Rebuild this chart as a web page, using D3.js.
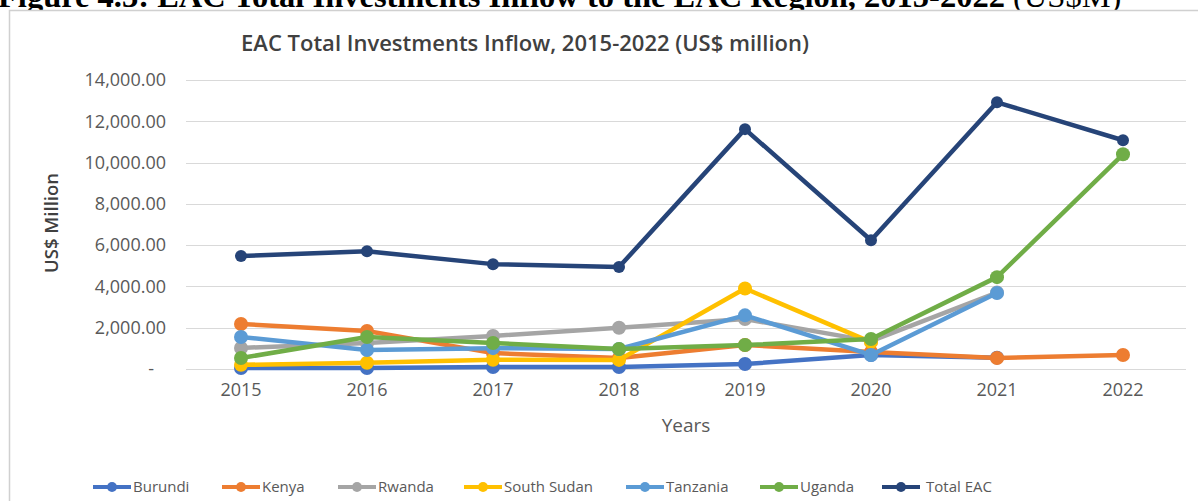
<!DOCTYPE html>
<html><head><meta charset="utf-8">
<script src="https://cdn.jsdelivr.net/npm/d3@7"></script>
<style>
html,body{margin:0;padding:0;background:#fff;}
svg{display:block;}
</style></head>
<body>
<svg id="chart" width="1198" height="501"></svg>
<script>
const years = ["2015","2016","2017","2018","2019","2020","2021","2022"];
const burundi    = [50, 50, 100, 100, 240, 680, 550, null];
const kenya      = [2180, 1840, 770, 530, 1160, 820, 530, 680];
const rwanda     = [1020, 1260, 1600, 2000, 2420, 1350, 3700, null];
const southSudan = [200, 300, 450, 440, 3900, 1300, null, null];
const tanzania   = [1550, 920, 1010, 970, 2600, 680, 3680, null];
const uganda     = [530, 1550, 1260, 970, 1160, 1450, 4450, 10400];
const totalEAC   = [5470, 5700, 5080, 4940, 11620, 6240, 12920, 11080];
const seriesNames = ["Burundi","Kenya","Rwanda","South Sudan","Tanzania","Uganda","Total EAC"];
const seriesValues = [burundi, kenya, rwanda, southSudan, tanzania, uganda, totalEAC];
const seriesColors = ["#4472C4","#ED7D31","#A5A5A5","#FFC000","#5B9BD5","#70AD47","#264478"];
const yTicks = [0, 2000, 4000, 6000, 8000, 10000, 12000, 14000];

const svg = d3.select("#chart");
const font = "'Open Sans', sans-serif";

// caption (cut off at top, as in the reference)
svg.append("text").attr("x", -2).attr("y", 7)
  .attr("font-family", "'Liberation Serif', serif").attr("font-size", 32.5).attr("font-weight", "bold")
  .attr("fill", "#000")
  .text("Figure 4.3: EAC Total Investments Inflow to the EAC Region, 2015-2022 ")
  .append("tspan").attr("font-weight", "normal").text("(US$M)");

// frame
svg.append("rect").attr("x", 9.5).attr("y", 10.5).attr("width", 1200).attr("height", 500)
  .attr("fill", "#fff").attr("stroke", "#d0d0d0").attr("stroke-width", 1.5);

const x = d3.scaleBand().domain(years).range([178, 1186]);
const y = d3.scaleLinear().domain([0, 14000]).range([369, 80]);

// gridlines
svg.append("g").selectAll("line").data(yTicks).join("line")
  .attr("x1", 186).attr("x2", 1186)
  .attr("y1", d => Math.round(y(d)) + 0.5).attr("y2", d => Math.round(y(d)) + 0.5)
  .attr("stroke", "#d9d9d9").attr("stroke-width", 1.2);

// y axis labels
const yAxis = d3.axisLeft(y).tickValues(yTicks).tickSize(0).tickPadding(0)
  .tickFormat(d => d === 0 ? "-" : d3.format(",.2f")(d));
const gy = svg.append("g").attr("transform", "translate(166,0)").call(yAxis);
gy.select(".domain").remove();
gy.selectAll("text").attr("font-family", font).attr("font-size", 18).attr("fill", "#595959")
  .attr("dx", d => d === 0 ? -12 : 0);

// x axis labels
const xAxis = d3.axisBottom(x).tickSize(0).tickPadding(0);
const gx = svg.append("g").attr("transform", "translate(0,383)").call(xAxis);
gx.select(".domain").remove();
gx.selectAll("text").attr("font-family", font).attr("font-size", 18).attr("fill", "#595959");

// titles
svg.append("text").attr("x", 525).attr("y", 51).attr("text-anchor", "middle")
  .attr("font-family", font).attr("font-size", 22).attr("font-weight", 600).attr("fill", "#404040")
  .text("EAC Total Investments Inflow, 2015-2022 (US$ million)");
svg.append("text").attr("transform", "translate(58,223) rotate(-90)").attr("text-anchor", "middle")
  .attr("font-family", font).attr("font-size", 18.5).attr("font-weight", 600).attr("fill", "#404040")
  .text("US$ Million");
svg.append("text").attr("x", 686).attr("y", 432).attr("text-anchor", "middle")
  .attr("font-family", font).attr("font-size", 19).attr("fill", "#595959")
  .text("Years");

// lines
const cx = d => x(d) + x.bandwidth() / 2;
const line = d3.line().defined(d => d.v != null).x(d => cx(d.year)).y(d => y(d.v));
seriesNames.forEach((name, i) => {
  const pts = years.map((yr, j) => ({year: yr, v: seriesValues[i][j]}));
  const g = svg.append("g");
  g.append("path").datum(pts).attr("d", line).attr("fill", "none")
    .attr("stroke", seriesColors[i]).attr("stroke-width", 4.5).attr("stroke-linejoin", "round");
  g.selectAll("circle").data(pts.filter(p => p.v != null)).join("circle")
    .attr("cx", p => cx(p.year)).attr("cy", p => y(p.v))
    .attr("r", name === "Total EAC" ? 6 : 7).attr("fill", seriesColors[i]);
});

// legend
const legendX = [93, 222, 338, 464, 626, 760, 882];
const lg = svg.append("g").attr("transform", "translate(0,487)");
seriesNames.forEach((name, i) => {
  const g = lg.append("g").attr("transform", `translate(${legendX[i]},0)`);
  g.append("line").attr("x1", 0).attr("x2", 38).attr("y1", 0).attr("y2", 0)
    .attr("stroke", seriesColors[i]).attr("stroke-width", 4);
  g.append("circle").attr("cx", 19).attr("cy", 0).attr("r", 5).attr("fill", seriesColors[i]);
  g.append("text").attr("x", name === "Total EAC" ? 44 : 40).attr("y", 5)
    .attr("font-family", font).attr("font-size", 15).attr("fill", "#595959").text(name);
});
</script>
</body></html>
